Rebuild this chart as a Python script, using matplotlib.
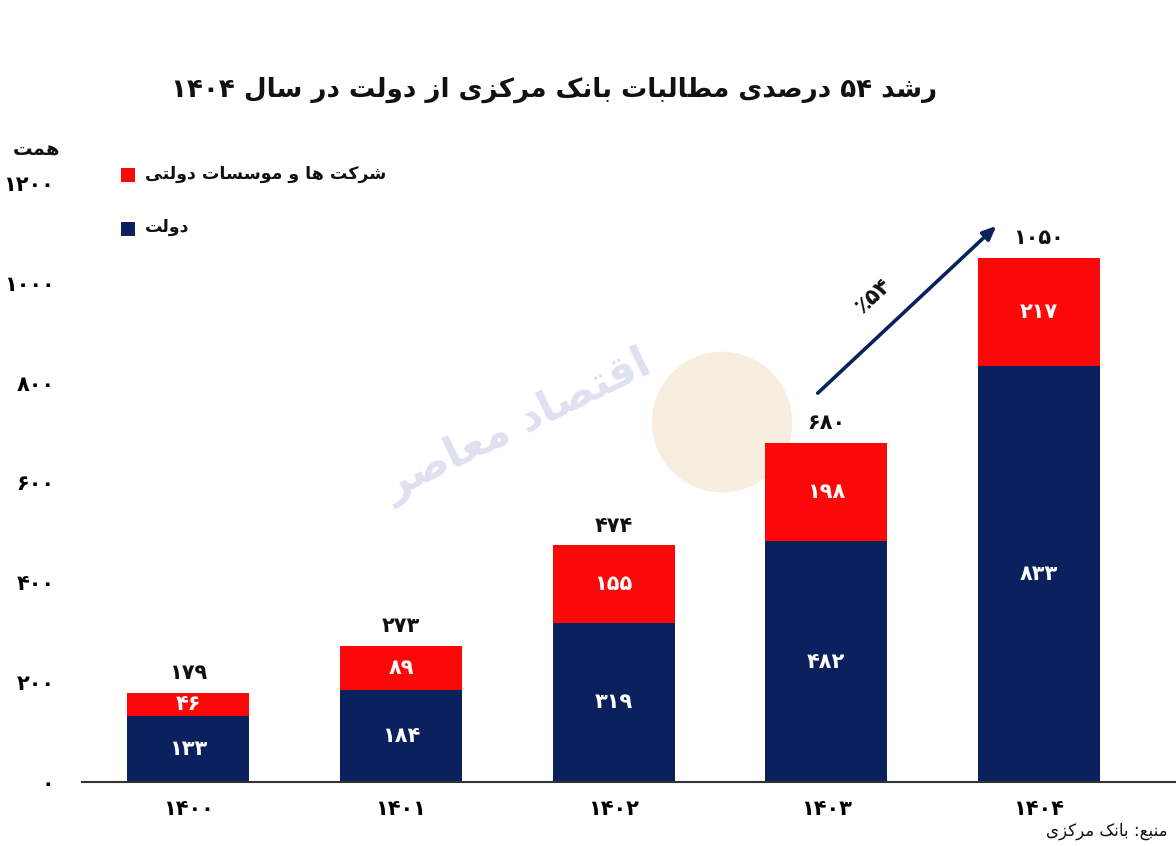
import matplotlib
matplotlib.use("Agg")
import matplotlib.pyplot as plt
from matplotlib import font_manager, ft2font
from matplotlib.font_manager import FontProperties
from matplotlib.patches import Rectangle, Ellipse

# ---------------- data ----------------
years = ["1400", "1401", "1402", "1403", "1404"]
government = [133, 184, 319, 482, 833]
state_companies = [46, 89, 155, 198, 217]
y_ticks = [0, 200, 400, 600, 800, 1000, 1200]

title_text = "رشد ۵۴ درصدی مطالبات بانک مرکزی از دولت در سال ۱۴۰۴"
legend_companies = "شرکت ها و موسسات دولتی"
legend_gov = "دولت"
unit_text = "همت"
source_text = "منبع: بانک مرکزی"
growth_text = "٪۵۴"
watermark_text = "اقتصاد معاصر"

RED = "#fd0808"
NAVY = "#0b215d"

# ---------------- minimal Persian shaping ----------------
FORMS = {
    "ا": (0xFE8D, 0xFE8E, None, None),
    "آ": (0xFE81, 0xFE82, None, None),
    "ب": (0xFE8F, 0xFE90, 0xFE91, 0xFE92),
    "پ": (0xFB56, 0xFB57, 0xFB58, 0xFB59),
    "ت": (0xFE95, 0xFE96, 0xFE97, 0xFE98),
    "ج": (0xFE9D, 0xFE9E, 0xFE9F, 0xFEA0),
    "ح": (0xFEA1, 0xFEA2, 0xFEA3, 0xFEA4),
    "د": (0xFEA9, 0xFEAA, None, None),
    "ر": (0xFEAD, 0xFEAE, None, None),
    "ز": (0xFEAF, 0xFEB0, None, None),
    "س": (0xFEB1, 0xFEB2, 0xFEB3, 0xFEB4),
    "ش": (0xFEB5, 0xFEB6, 0xFEB7, 0xFEB8),
    "ص": (0xFEB9, 0xFEBA, 0xFEBB, 0xFEBC),
    "ط": (0xFEC1, 0xFEC2, 0xFEC3, 0xFEC4),
    "ع": (0xFEC9, 0xFECA, 0xFECB, 0xFECC),
    "ق": (0xFED5, 0xFED6, 0xFED7, 0xFED8),
    "ل": (0xFEDD, 0xFEDE, 0xFEDF, 0xFEE0),
    "م": (0xFEE1, 0xFEE2, 0xFEE3, 0xFEE4),
    "ن": (0xFEE5, 0xFEE6, 0xFEE7, 0xFEE8),
    "ه": (0xFEE9, 0xFEEA, 0xFEEB, 0xFEEC),
    "و": (0xFEED, 0xFEEE, None, None),
    "ی": (0xFBFC, 0xFBFD, 0xFBFE, 0xFBFF),
    "ک": (0xFB8E, 0xFB8F, 0xFB90, 0xFB91),
}
FALLBACK = {
    "ی": (0xFEEF, 0xFEF0, 0xFEF3, 0xFEF4),
    "ک": (0xFED9, 0xFEDA, 0xFEDB, 0xFEDC),
}

try:
    _fpath = font_manager.findfont(FontProperties(family="DejaVu Sans", weight="bold"))
    _ft = ft2font.FT2Font(_fpath)
    for ch, fb in FALLBACK.items():
        if any(_ft.get_char_index(c) == 0 for c in FORMS[ch] if c):
            FORMS[ch] = fb
except Exception:
    pass


def shape(text):
    chars = list(text)
    out = []
    i = 0
    n = len(chars)

    def dual(c):
        return c in FORMS and FORMS[c][2] is not None

    while i < n:
        c = chars[i]
        prev = chars[i - 1] if i > 0 else None
        join_prev = c in FORMS and prev is not None and dual(prev)
        if c == "ل" and i + 1 < n and chars[i + 1] == "ا":
            out.append(chr(0xFEFC if join_prev else 0xFEFB))
            i += 2
            continue
        if c not in FORMS:
            out.append(c)
            i += 1
            continue
        nxt = chars[i + 1] if i + 1 < n else None
        join_next = dual(c) and nxt is not None and nxt in FORMS
        iso, fin, ini, med = FORMS[c]
        if join_prev and join_next:
            g = med
        elif join_prev:
            g = fin
        elif join_next:
            g = ini
        else:
            g = iso
        out.append(chr(g))
        i += 1
    return out


def fa(text):
    """Shape and convert a logical RTL string to visual order."""
    glyphs = shape(text)
    runs = []
    for g in glyphs:
        d = g.isdigit()
        if runs and runs[-1][0] == d:
            runs[-1][1].append(g)
        else:
            runs.append([d, [g]])
    vis = []
    for d, gs in reversed(runs):
        vis.extend(gs if d else list(reversed(gs)))
    return "".join(vis)


def fanum(s):
    return str(s).translate(str.maketrans("0123456789", "۰۱۲۳۴۵۶۷۸۹"))


# ---------------- figure ----------------
plt.rcParams["font.family"] = ["DejaVu Sans"]
fig = plt.figure(figsize=(11.76, 8.46), dpi=100)
W, H = 1176, 846

ax = fig.add_axes([82 / W, 64 / H, 1 - 82 / W, (782 - 183) / H])
ax.set_xlim(-0.5, 4.645)
ax.set_ylim(0, 1200)

# watermark (behind bars)
ax.add_patch(Ellipse((2.51, 721), 0.66, 282, facecolor="#f8eedf",
                     edgecolor="none", zorder=0.5, clip_on=False))
ax.text(1.55, 715, fa(watermark_text), fontsize=31, color="#dfe0f0",
        ha="center", va="center", rotation=26, fontweight="bold", zorder=0.6)

x = list(range(len(years)))
bw = 0.574
ax.bar(x, government, width=bw, color=NAVY, zorder=2)
ax.bar(x, state_companies, width=bw, bottom=government, color=RED, zorder=2)

for i in x:
    g = government[i]
    c = state_companies[i]
    t = g + c
    ax.text(i, g / 2, fanum(g), ha="center", va="center", color="white",
            fontsize=15, fontweight="bold", zorder=3)
    ax.text(i, g + c / 2, fanum(c), ha="center", va="center", color="white",
            fontsize=15, fontweight="bold", zorder=3)
    ax.annotate(fanum(t), (i, t), xytext=(0, 7), textcoords="offset points",
                ha="center", va="bottom", fontsize=15, fontweight="bold",
                color="#111111", annotation_clip=False, zorder=3)

# growth arrow
ax.annotate("", xy=(3.80, 1114), xytext=(2.96, 779),
            arrowprops=dict(arrowstyle="-|>,head_length=0.8,head_width=0.35",
                            color=NAVY, lw=2.6, shrinkA=0, shrinkB=0))
ax.text(3.22, 975, growth_text, rotation=43, ha="center", va="center",
        fontsize=16, fontweight="bold", color="#111111")

# axes styling
for s in ["top", "right", "left"]:
    ax.spines[s].set_visible(False)
ax.spines["bottom"].set_color("#333333")
ax.spines["bottom"].set_linewidth(1.5)
ax.spines["bottom"].set_zorder(4)
ax.set_yticks(y_ticks)
ax.set_yticklabels([fanum(v) for v in y_ticks], fontsize=15, fontweight="bold")
ax.set_xticks(x)
ax.set_xticklabels([fanum(y) for y in years], fontsize=15, fontweight="bold")
ax.tick_params(axis="y", length=0, pad=20)
ax.tick_params(axis="x", length=0, pad=12)

# title, unit, legend, source
fig.text(554 / W, 1 - 90 / H, fa(title_text), ha="center", va="center",
         fontsize=18.8, fontweight="bold", color="#111111")
fig.text(36 / W, 1 - 150 / H, fa(unit_text), ha="center", va="center",
         fontsize=14, fontweight="bold", color="#111111")

fig.patches.append(Rectangle((121, H - 182), 14, 14, transform=None,
                             facecolor=RED, edgecolor="none"))
fig.text(145 / W, 1 - 174 / H, fa(legend_companies), ha="left", va="center",
         fontsize=12.5, fontweight="bold", color="#111111")
fig.patches.append(Rectangle((121, H - 236), 14, 14, transform=None,
                             facecolor=NAVY, edgecolor="none"))
fig.text(145 / W, 1 - 227 / H, fa(legend_gov), ha="left", va="center",
         fontsize=12.5, fontweight="bold", color="#111111")

fig.text(1168 / W, 1 - 831 / H, fa(source_text), ha="right", va="center",
         fontsize=12, color="#111111")

fig.savefig("out.png", dpi=100)
